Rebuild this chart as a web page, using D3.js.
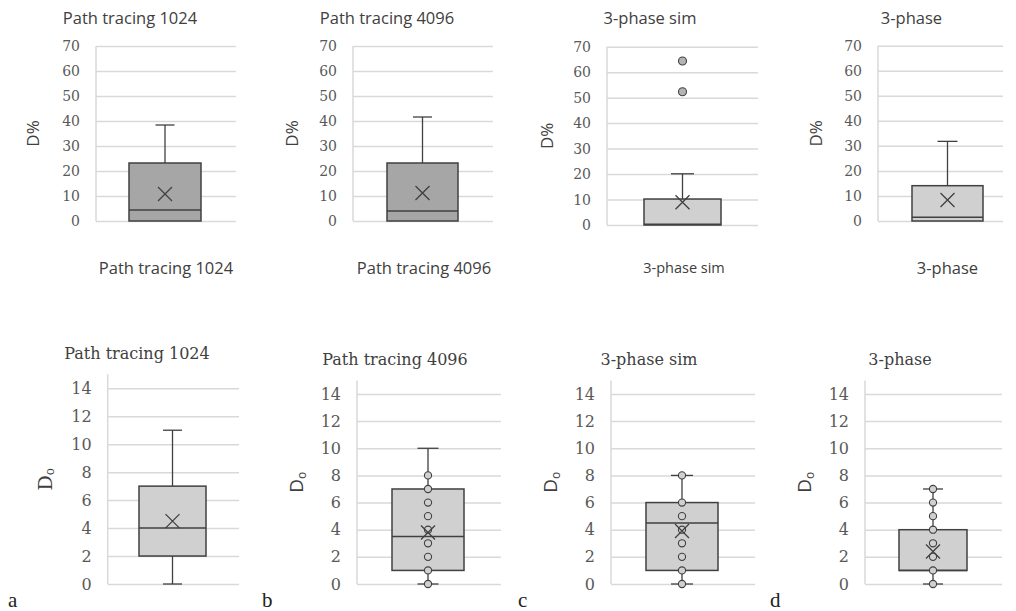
<!DOCTYPE html>
<html><head><meta charset="utf-8">
<script src="https://cdn.jsdelivr.net/npm/d3@7"></script>
<style>body{margin:0;background:#fff}svg{display:block}</style>
</head><body><svg id="c" width="1016" height="611"></svg>
<script>
// ---------- data ----------
const topCategories = ["Path tracing 1024", "Path tracing 4096", "3-phase sim", "3-phase"];
const topQ1 = [0, 0, 0, 0];
const topMedian = [4.4, 4.0, 0.3, 1.5];
const topQ3 = [23.2, 23.2, 10.2, 14.1];
const topWhiskerLow = [0, 0, 0, 0];
const topWhiskerHigh = [38.4, 41.6, 20.1, 31.8];
const topMean = [10.8, 11.2, 8.9, 8.4];
const topOutliers = [[], [], [64.4, 52.3], []];
const topTicks = [0, 10, 20, 30, 40, 50, 60, 70];
const topYLabel = "D%";

const bottomCategories = ["Path tracing 1024", "Path tracing 4096", "3-phase sim", "3-phase"];
const bottomQ1 = [2, 1, 1, 1];
const bottomMedian = [4, 3.5, 4.5, 1];
const bottomQ3 = [7, 7, 6, 4];
const bottomWhiskerLow = [0, 0, 0, 0];
const bottomWhiskerHigh = [11, 10, 8, 7];
const bottomMean = [4.5, 3.8, 3.9, 2.4];
const bottomPoints = [[], [0, 1, 2, 3, 4, 5, 6, 7, 8], [0, 1, 2, 3, 4, 5, 6, 8], [0, 1, 2, 3, 4, 5, 6, 7]];
const bottomTicks = [0, 2, 4, 6, 8, 10, 12, 14];
const panelLetters = ["a", "b", "c", "d"];

// ---------- layout (not data) ----------
const topLayout = [
  {left: 96, right: 236, yTop: 46, yBot: 221, cx: 165, boxW: 72, capW: 19, titleX: 130, ylX: 32, catX: 166, catSize: 16.5, fill: "#a6a6a6"},
  {left: 353, right: 493, yTop: 46, yBot: 221, cx: 422.5, boxW: 71, capW: 19, titleX: 387, ylX: 291, catX: 424, catSize: 16.5, fill: "#a6a6a6"},
  {left: 607, right: 758, yTop: 46.7, yBot: 225, cx: 682.5, boxW: 77, capW: 23, titleX: 650, ylX: 546, catX: 684, catSize: 14.5, fill: "#d0d0d0"},
  {left: 878, right: 1003, yTop: 45.7, yBot: 221, cx: 947.5, boxW: 71, capW: 20, titleX: 911.5, ylX: 815, catX: 947.5, catSize: 16.5, fill: "#d0d0d0"}
];
const bottomLayout = [
  {left: 107.7, right: 239, yTop: 374.3, yBot: 584, cx: 172.5, boxW: 67, capW: 19, titleX: 137, titleY: 353, ylX: 45, serifLabel: true, letterX: 8},
  {left: 357, right: 501, yTop: 380.4, yBot: 584, cx: 428, boxW: 72, capW: 21, titleX: 395, titleY: 359, ylX: 296, serifLabel: false, letterX: 262},
  {left: 611, right: 755, yTop: 380.4, yBot: 584, cx: 682, boxW: 72, capW: 22, titleX: 649, titleY: 359, ylX: 550, serifLabel: false, letterX: 518},
  {left: 865, right: 1002, yTop: 380.4, yBot: 584, cx: 933, boxW: 68, capW: 20, titleX: 900, titleY: 359, ylX: 804, serifLabel: false, letterX: 770}
];

const svg = d3.select("#c");
const SANS = "'Open Sans', 'Liberation Sans', sans-serif";
const SERIF = "'DejaVu Serif', serif";
const GRID = "#d9d9d9", DARK = "#404040", TXT = "#595959";

function drawBox(g, y, L, s, fill) {
  const x0 = L.cx - L.boxW / 2;
  g.append("line").attr("x1", L.cx).attr("x2", L.cx).attr("y1", y(s.q3)).attr("y2", y(s.hi))
    .attr("stroke", DARK).attr("stroke-width", 1.3);
  g.append("line").attr("x1", L.cx - L.capW / 2).attr("x2", L.cx + L.capW / 2).attr("y1", y(s.hi)).attr("y2", y(s.hi))
    .attr("stroke", DARK).attr("stroke-width", 1.3);
  if (s.q1 > s.lo) {
    g.append("line").attr("x1", L.cx).attr("x2", L.cx).attr("y1", y(s.q1)).attr("y2", y(s.lo))
      .attr("stroke", DARK).attr("stroke-width", 1.3);
    g.append("line").attr("x1", L.cx - L.capW / 2).attr("x2", L.cx + L.capW / 2).attr("y1", y(s.lo)).attr("y2", y(s.lo))
      .attr("stroke", DARK).attr("stroke-width", 1.3);
  }
  g.append("rect").attr("x", x0).attr("width", L.boxW).attr("y", y(s.q3)).attr("height", y(s.q1) - y(s.q3))
    .attr("fill", fill).attr("stroke", DARK).attr("stroke-width", 1.5);
  g.append("line").attr("x1", x0).attr("x2", x0 + L.boxW).attr("y1", y(s.med)).attr("y2", y(s.med))
    .attr("stroke", DARK).attr("stroke-width", 1.5);
  g.selectAll("circle.pt").data(s.points).join("circle").attr("class", "pt")
    .attr("cx", L.cx).attr("cy", d => y(d)).attr("r", s.r)
    .attr("fill", s.ptFill).attr("stroke", DARK).attr("stroke-width", 1.1);
  const my = y(s.mean), h = 7;
  g.append("path").attr("d", `M${L.cx - h},${my - h}L${L.cx + h},${my + h}M${L.cx - h},${my + h}L${L.cx + h},${my - h}`)
    .attr("stroke", DARK).attr("stroke-width", 1.3).attr("fill", "none");
}

function drawAxes(g, y, L, ticks, fontSize) {
  const ax = g.append("g").attr("transform", `translate(${L.left},0)`)
    .call(d3.axisLeft(y).tickValues(ticks).tickSize(-(L.right - L.left)).tickPadding(16).tickFormat(d3.format("d")));
  ax.select(".domain").remove();
  ax.selectAll(".tick line").attr("stroke", GRID).attr("stroke-width", 1.5);
  ax.selectAll(".tick text").attr("fill", TXT).style("font-family", SERIF).style("font-size", fontSize + "px");
  g.append("line").attr("x1", L.left).attr("x2", L.left).attr("y1", y.range()[0]).attr("y2", y.range()[1])
    .attr("stroke", GRID).attr("stroke-width", 1.5);
}

// ---------- top row ----------
topCategories.forEach((cat, i) => {
  const L = topLayout[i];
  const g = svg.append("g");
  const y = d3.scaleLinear().domain([0, 70]).range([L.yBot, L.yTop]);
  drawAxes(g, y, L, topTicks, 14);
  drawBox(g, y, L, {q1: topQ1[i], med: topMedian[i], q3: topQ3[i], lo: topWhiskerLow[i], hi: topWhiskerHigh[i],
    mean: topMean[i], points: topOutliers[i], r: 4, ptFill: "#b4b4b4"}, L.fill);
  g.append("text").attr("x", L.titleX).attr("y", 17).attr("text-anchor", "middle").attr("dominant-baseline", "central")
    .style("font-family", SANS).style("font-size", "16.5px").attr("fill", DARK).text(cat);
  g.append("text").attr("x", L.catX).attr("y", 267).attr("text-anchor", "middle").attr("dominant-baseline", "central")
    .style("font-family", SANS).style("font-size", L.catSize + "px").attr("fill", DARK).text(cat);
  g.append("text").attr("transform", `translate(${L.ylX},${(L.yTop + L.yBot) / 2}) rotate(-90)`)
    .attr("text-anchor", "middle").attr("dominant-baseline", "central")
    .style("font-family", SANS).style("font-size", "17px").attr("fill", DARK).text(topYLabel);
});

// ---------- bottom row ----------
bottomCategories.forEach((cat, i) => {
  const L = bottomLayout[i];
  const g = svg.append("g");
  const y = d3.scaleLinear().domain([0, 15]).range([L.yBot, L.yTop]);
  drawAxes(g, y, L, bottomTicks, 16);
  drawBox(g, y, L, {q1: bottomQ1[i], med: bottomMedian[i], q3: bottomQ3[i], lo: bottomWhiskerLow[i], hi: bottomWhiskerHigh[i],
    mean: bottomMean[i], points: bottomPoints[i], r: 3.6, ptFill: "#d0d0d0"}, "#d0d0d0");
  g.append("text").attr("x", L.titleX).attr("y", L.titleY).attr("text-anchor", "middle").attr("dominant-baseline", "central")
    .style("font-family", SERIF).style("font-size", "16px").attr("fill", DARK).text(cat);
  const yl = g.append("text").attr("transform", `translate(${L.ylX},${(L.yTop + L.yBot) / 2}) rotate(-90)`)
    .attr("text-anchor", "middle").attr("dominant-baseline", "central")
    .style("font-family", L.serifLabel ? SERIF : SANS).style("font-size", "19px").attr("fill", DARK);
  yl.append("tspan").text("D");
  yl.append("tspan").attr("dy", 5).style("font-size", "12px").text("o");
  g.append("text").attr("x", L.letterX).attr("y", 607)
    .style("font-family", "'Liberation Serif', serif").style("font-size", "21px").attr("fill", "#222").text(panelLetters[i]);
});
</script></body></html>
